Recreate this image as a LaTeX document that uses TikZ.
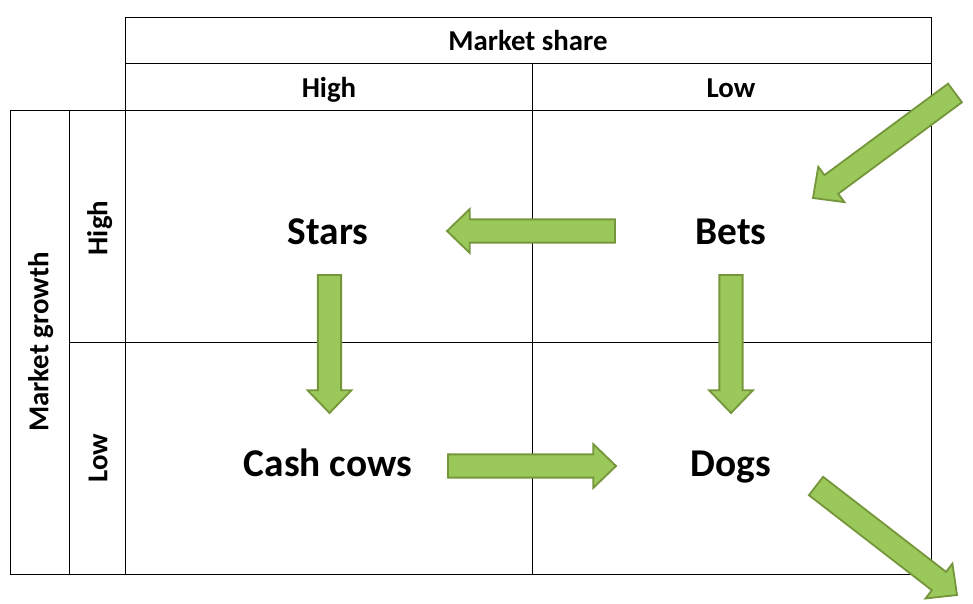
\documentclass[tikz,border=0pt]{standalone}
\usepackage{fontspec}
\setmainfont{Carlito}
\usepackage{xcolor}
\usetikzlibrary{calc}
\definecolor{arrowfill}{RGB}{155,200,90}
\definecolor{arrowline}{RGB}{118,150,60}
\newcommand\fatarrow[2]{%
  \coordinate (hb) at ($(#2)!0.57cm!(#1)$);
  \draw[bigarrow] ($(#1)!0.29cm!90:(#2)$) -- ($(hb)!0.29cm!90:(#2)$) -- ($(hb)!0.55cm!90:(#2)$) -- (#2)
    -- ($(hb)!0.55cm!-90:(#2)$) -- ($(hb)!0.29cm!-90:(#2)$) -- ($(#1)!0.29cm!-90:(#2)$) -- cycle;}

\begin{document}
\begin{tikzpicture}[
  x=0.025cm, y=-0.025cm,  grid/.style={line width=0.7pt},  head/.style={font=\bfseries\fontsize{20.5}{24}\selectfont,text height=13.2pt,text depth=0pt},  quad/.style={font=\bfseries\fontsize{28}{32}\selectfont,text height=18pt,text depth=0pt},  bigarrow/.style={fill=arrowfill,draw=arrowline,line width=1.3pt,line join=miter}
]
  \useasboundingbox (0,0) rectangle (973,604);
  \draw[grid] (125,17) rectangle (931,110);
  \draw[grid] (125,63) -- (931,63);
  \draw[grid] (532,63) -- (532,110);
  \draw[grid] (10,110) rectangle (931,574);
  \draw[grid] (69,110) -- (69,574);
  \draw[grid] (125,110) -- (125,574);
  \draw[grid] (532,110) -- (532,574);
  \draw[grid] (69,342) -- (931,342);
  \node[head] (share) at (528,41) {Market share};
  \node[head] (sh) at (329,88) {High};
  \node[head] (sl) at (731,88) {Low};
  \node[head,rotate=90] (growth) at (39,342) {Market growth};
  \node[head,rotate=90] (gh) at (98,228) {High};
  \node[head,rotate=90] (gl) at (98,458) {Low};
  \node[quad] (stars) at (328,232) {Stars};
  \node[quad] (bets) at (731,232) {Bets};
  \node[quad] (cows) at (328,464) {Cash cows};
  \node[quad] (dogs) at (731,464) {Dogs};
  \coordinate (a1) at (955,93);
  \coordinate (b1) at (813,198);
  \coordinate (a2) at (615,231);
  \coordinate (b2) at (447,231);
  \coordinate (a3) at (329.5,275);
  \coordinate (b3) at (329.5,413);
  \coordinate (a4) at (731,275);
  \coordinate (b4) at (731,413);
  \coordinate (a5) at (448,466);
  \coordinate (b5) at (616,466);
  \coordinate (a6) at (816,486);
  \coordinate (b6) at (957,595);
  \fatarrow{a1}{b1}
  \fatarrow{a2}{b2}
  \fatarrow{a3}{b3}
  \fatarrow{a4}{b4}
  \fatarrow{a5}{b5}
  \fatarrow{a6}{b6}
\end{tikzpicture}
\end{document}
